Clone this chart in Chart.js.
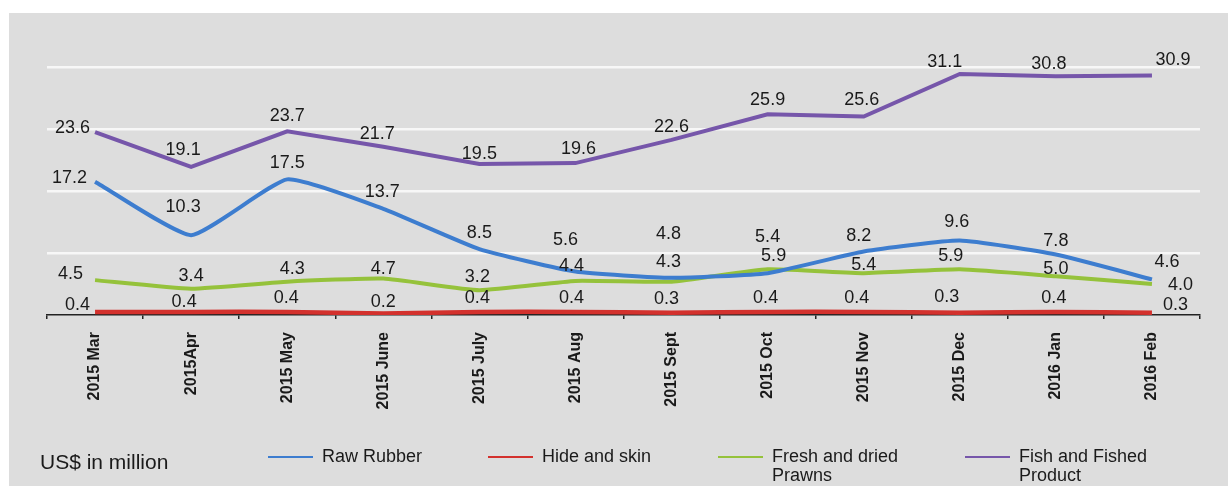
<!DOCTYPE html>
<html>
<head>
<meta charset="utf-8">
<script src="https://cdn.jsdelivr.net/npm/chart.js@4.4.1/dist/chart.umd.min.js"></script>
<style>
  html, body { margin:0; padding:0; background:#ffffff; }
  body { width:1228px; height:486px; position:relative; overflow:hidden; font-family:"Liberation Sans", Arial, sans-serif; }
  #panel { position:absolute; left:9px; top:13px; right:0; bottom:0; background:#dddddd; }
  #wrap { position:absolute; left:0; top:0; width:1228px; height:486px; }
  #unit { position:absolute; left:40px; top:449px; font-size:21px; color:#1a1a1a; line-height:26px; white-space:nowrap; }
  .lg { position:absolute; top:447px; display:flex; align-items:flex-start; }
  .lg .sw { width:45px; height:2px; margin-top:9px; margin-right:9px; }
  .lg .tx { font-size:18px; line-height:19px; color:#1a1a1a; white-space:nowrap; }
</style>
</head>
<body>
<div id="panel"></div>
<div id="wrap"><canvas id="c" width="1228" height="486"></canvas></div>
<div id="unit">US$ in million</div>
<div id="legend"></div>
<script>
// ---- data ----
const categories = ['2015 Mar','2015Apr','2015 May','2015 June','2015 July','2015 Aug','2015 Sept','2015 Oct','2015 Nov','2015 Dec','2016 Jan','2016 Feb'];
const rawRubber  = [17.2,10.3,17.5,13.7,8.5,5.6,4.8,5.4,8.2,9.6,7.8,4.6];
const hideSkin   = [0.4,0.4,0.4,0.2,0.4,0.4,0.3,0.4,0.4,0.3,0.4,0.3];
const prawns     = [4.5,3.4,4.3,4.7,3.2,4.4,4.3,5.9,5.4,5.9,5.0,4.0];
const fish       = [23.6,19.1,23.7,21.7,19.5,19.6,22.6,25.9,25.6,31.1,30.8,30.9];
const seriesNames = ['Raw Rubber','Hide and skin','Fresh and dried\nPrawns','Fish and Fished\nProduct'];
const yTicks = [0,8,16,24,32];
const unitLabel = 'US$ in million';

// ---- style ----
const colors = ['#3d7dcf','#d3312d','#95c23b','#7656aa'];
const tensions = [0.15, 0.15, 0.15, 0];
const widths = [4, 4.5, 4, 4];
const legendLeft = [268,488,718,965];
// label nudges [dx, dy, align] relative to each point
const labelNudges = [
  [[-8,-4,'right'],[-8,-28],[0,-16],[-1,-17],[0,-16],[-10,-32],[-3,-44],[0,-36],[-5,-15],[-3,-19],[0,-14],[15,-17]],
  [[-5,-7,'right'],[-7,-10],[-1,-14],[0,-11],[-2,-14],[-4,-14],[-5,-14],[-2,-14],[-7,-14],[-13,-16],[-2,-14],[11,-8,'left']],
  [[-12,-6,'right'],[0,-13],[5,-13],[0,-10],[-2,-13],[-4,-15],[-3,-20],[6,-13],[0,-8],[-9,-13],[0,-7],[16,1,'left']],
  [[-5,-4,'right'],[-8,-17],[0,-15],[-6,-13],[0,-10],[3,-14],[0,-13],[0,-14],[-2,-17],[-15,-12],[-7,-12],[21,-15]]
];

const seriesData = [rawRubber, hideSkin, prawns, fish];

const valueLabels = {
  id:'valueLabels',
  afterDatasetsDraw(chart){
    const ctx = chart.ctx;
    ctx.save();
    ctx.font = '18px "Liberation Sans", Arial, sans-serif';
    ctx.fillStyle = '#1a1a1a';
    ctx.textBaseline = 'middle';
    chart.data.datasets.forEach((ds, di) => {
      const meta = chart.getDatasetMeta(di);
      meta.data.forEach((pt, i) => {
        const n = labelNudges[di][i] || [0,-14];
        ctx.textAlign = n[2] || 'center';
        ctx.fillText(ds.data[i].toFixed(1), pt.x + n[0], pt.y + n[1]);
      });
    });
    ctx.restore();
  }
};

const chart = new Chart(document.getElementById('c'), {
  type:'line',
  data:{
    labels: categories,
    datasets: seriesData.map((d, i) => ({
      label: seriesNames[i],
      data: d,
      borderColor: colors[i],
      backgroundColor: colors[i],
      borderWidth: widths[i],
      pointRadius: 0,
      tension: tensions[i],
      fill: false
    }))
  },
  options:{
    responsive:false,
    devicePixelRatio:1,
    animation:false,
    layout:{ padding:{ left:47, right:28, top:67, bottom:0 } },
    plugins:{ legend:{ display:false }, tooltip:{ enabled:false } },
    scales:{
      x:{
        offset:true,
        grid:{ display:true, drawOnChartArea:false, drawTicks:true, tickLength:4, color:'#222222', lineWidth:1.5, offset:true },
        border:{ display:true, color:'#222222', width:1.5 },
        ticks:{ autoSkip:false, minRotation:90, maxRotation:90, padding:13, color:'#1a1a1a',
                font:{ family:'"Liberation Sans", Arial, sans-serif', size:16, weight:'bold' } },
        afterFit(s){ s.height = 171; }
      },
      y:{
        min: yTicks[0], max: yTicks[yTicks.length-1],
        afterBuildTicks(s){ s.ticks = yTicks.map(v => ({ value:v })); },
        ticks:{ display:false },
        border:{ display:false },
        grid:{ color:(c) => c.tick && c.tick.value === 0 ? 'rgba(0,0,0,0)' : '#f7f7f7', lineWidth:2.5, drawTicks:false },
        afterFit(s){ s.width = 0; }
      }
    }
  },
  plugins:[valueLabels]
});

// HTML legend built from datasets
document.getElementById('unit').textContent = unitLabel;
const lg = document.getElementById('legend');
chart.data.datasets.forEach((ds, i) => {
  const item = document.createElement('div');
  item.className = 'lg';
  item.style.left = legendLeft[i] + 'px';
  const sw = document.createElement('div');
  sw.className = 'sw';
  sw.style.background = ds.borderColor;
  const tx = document.createElement('div');
  tx.className = 'tx';
  ds.label.split('\n').forEach((line, k) => {
    if (k) tx.appendChild(document.createElement('br'));
    tx.appendChild(document.createTextNode(line));
  });
  item.appendChild(sw); item.appendChild(tx);
  lg.appendChild(item);
});
</script>
</body>
</html>
